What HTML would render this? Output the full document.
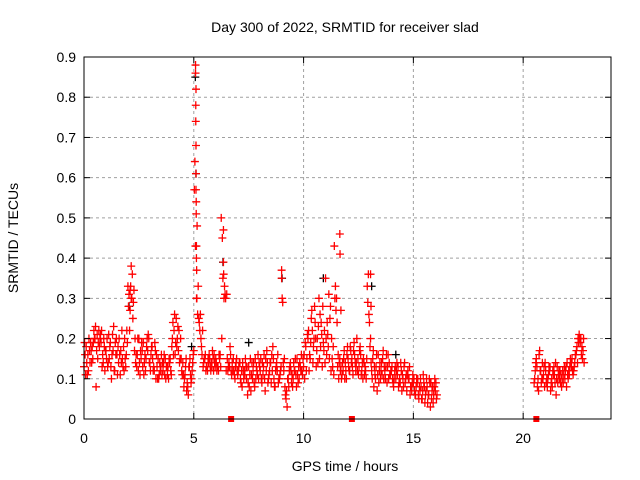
<!DOCTYPE html>
<html><head><meta charset="utf-8"><style>
body{margin:0;background:#fff;}
svg{display:block;font-family:"Liberation Sans",sans-serif;}
</style></head><body>
<svg id="chart" width="640" height="480">
<text x="345" y="32" font-size="14" text-anchor="middle">Day 300 of 2022, SRMTID for receiver slad</text>
<text x="345" y="471" font-size="14" text-anchor="middle">GPS time / hours</text>
<text transform="translate(18,238) rotate(-90)" font-size="14" text-anchor="middle">SRMTID / TECUs</text>
<g id="grid"></g><g id="marks"></g><g id="axes"></g>
</svg>
<script>
const xTicks=[0,5,10,15,20];
const yTicks=[0,0.1,0.2,0.3,0.4,0.5,0.6,0.7,0.8,0.9];
const yTickLabels=["0","0.1","0.2","0.3","0.4","0.5","0.6","0.7","0.8","0.9"];
const step=0.1;
const seriesA=[.13,.18,.12,.19,.15,.2,.21,.18,.22,.2,
.17,.14,.19,.21,.12,.16,.2,.14,.18,.13,
.33,.27,.36,.17,.13,.2,.15,.19,.12,.17,
.14,.18,.12,.16,.1,.13,.12,.15,.11,.14,
.18,.22,.25,.17,.2,.14,.11,.09,.13,.1,
.17,.82,.33,.26,.22,.15,.13,.16,.14,.12,
.15,.13,.16,.45,.33,.31,.14,.12,.15,.13,
.11,.14,.08,.12,.1,.13,.07,.12,.15,.11,
.13,.09,.16,.12,.1,.14,.18,.08,.12,.1,
.35,.12,.05,.1,.14,.08,.12,.15,.1,.16,
.13,.18,.2,.15,.22,.28,.17,.3,.24,.19,
.35,.21,.25,.15,.43,.3,.1,.13,.12,.14,
.18,.12,.15,.19,.14,.11,.16,.1,.13,.33,
.24,.12,.08,.13,.16,.1,.15,.12,.09,.14,
.12,.08,.1,.13,.09,.11,.14,.07,.1,.08,
.09,.06,.1,.07,.05,.08,.1,.06,.09,.04,.07];
const seriesB=[.16,.11,.17,.14,.22,.08,.19,.21,.16,.12,
.2,.15,.1,.23,.16,.18,.11,.15,.2,.22,
.31,.38,.29,.14,.2,.11,.17,.14,.18,.2,
.16,.12,.17,.1,.14,.11,.16,.13,.1,.12,
.24,.16,.2,.14,.12,.08,.15,.06,.11,.14,
.64,.48,.24,.18,.14,.12,.15,.13,.17,.14,
.12,.16,.5,.39,.3,.12,.18,.14,.11,.15,
.13,.09,.12,.15,.06,.11,.14,.09,.13,.1,
.15,.11,.07,.14,.12,.16,.1,.13,.09,.12,
.29,.08,.03,.12,.09,.14,.11,.09,.13,.11,
.1,.15,.12,.25,.18,.2,.14,.26,.13,.22,
.16,.31,.12,.18,.33,.13,.15,.11,.17,.1,
.13,.17,.11,.14,.12,.17,.12,.14,.1,.36,
.2,.15,.11,.07,.12,.14,.1,.13,.16,.11,
.1,.12,.14,.09,.12,.08,.1,.12,.06,.09,
.07,.1,.05,.08,.11,.06,.04,.09,.07,.08,.05];
const seriesC=[.19,.14,.2,.17,.19,.23,.15,.2,.13,.18,
.15,.21,.13,.17,.19,.11,.16,.22,.12,.16,
.28,.33,.25,.2,.16,.14,.19,.11,.15,.21,
.12,.15,.19,.13,.11,.16,.14,.1,.13,.15,
.2,.26,.18,.22,.15,.11,.13,.08,.15,.12,
.57,.3,.25,.2,.13,.16,.12,.15,.13,.16,
.14,.12,.13,.35,.31,.15,.13,.11,.12,.14,
.12,.1,.14,.11,.13,.08,.11,.14,.1,.16,
.12,.14,.1,.17,.11,.09,.15,.12,.16,.11,
.3,.15,.07,.08,.12,.1,.15,.11,.14,.12,
.16,.12,.22,.19,.14,.24,.2,.15,.21,.17,
.2,.18,.28,.13,.3,.24,.14,.1,.15,.12,
.15,.18,.13,.16,.2,.13,.11,.15,.12,.29,
.18,.1,.13,.16,.09,.12,.17,.1,.13,.11,
.13,.1,.12,.08,.14,.1,.09,.11,.13,.07,
.1,.08,.06,.1,.07,.04,.08,.1,.05,.06,.09];
const seriesD=[.11,.16,.14,.18,.2,.17,.22,.19,.14,.17,
.13,.18,.16,.12,.2,.14,.17,.13,.15,.19,
.22,.3,.32,.16,.12,.17,.13,.16,.2,.14,
.18,.13,.1,.15,.12,.14,.11,.13,.15,.11,
.16,.19,.23,.15,.11,.1,.07,.13,.09,.16,
.43,.26,.22,.16,.15,.13,.14,.12,.15,.13,
.13,.15,.2,.3,.12,.13,.16,.12,.1,.12,
.14,.12,.1,.13,.09,.15,.1,.08,.12,.14,
.1,.13,.15,.09,.14,.12,.08,.14,.1,.13,
.14,.06,.1,.13,.11,.12,.08,.13,.12,.15,
.19,.21,.16,.27,.2,.13,.23,.18,.28,.14,
.24,.15,.2,.11,.27,.16,.12,.14,.1,.16,
.12,.14,.17,.12,.15,.18,.14,.11,.15,.26,
.14,.17,.1,.11,.14,.11,.13,.16,.1,.12,
.09,.13,.11,.1,.07,.13,.11,.1,.08,.11,
.06,.09,.08,.05,.09,.07,.06,.03,.08,.1,.06];
const lateA=[.09,.15,.07,.12,.1,.14,.08,.12,.1,.13,.06,.11,.09,.12,.1,.14,.11,.13,.12,.16,.2,.19,.15];
const lateB=[.12,.08,.17,.1,.13,.09,.11,.07,.12,.09,.13,.1,.08,.11,.13,.1,.15,.12,.14,.18,.21,.16,.2];
const lateC=[.1,.13,.16,.09,.11,.12,.1,.13,.08,.11,.1,.12,.11,.09,.12,.11,.13,.15,.13,.17,.19,.2,.17];
const lateD=[.14,.1,.12,.14,.08,.1,.13,.09,.11,.14,.09,.12,.1,.13,.08,.12,.14,.11,.16,.14,.2,.18,.14];
const spikeHours=[5.08,5.08,5.09,5.09,5.1,5.1,5.1,5.11,5.11,5.12,5.12,5.13,5.14,6.35,6.36,11.65,11.66,11.7,13.05,13.07,9.0,2.1,2.15];
const spikeVals=[.88,.86,.78,.74,.68,.61,.57,.54,.51,.43,.4,.37,.3,.47,.36,.46,.41,.27,.36,.28,.37,.32,.3];
const blackHours=[5.07,5.1,6.33,9.02,10.9,13.1,2.05,4.9,14.2,7.5];
const blackVals=[.85,.61,.39,.35,.35,.33,.28,.18,.16,.19];
const zeroHours=[6.7,12.2,20.6];

const X0=84,X1=611,Y0=419,Y1=57;
function xs(h){return X0+(h/24)*(X1-X0);}
function ys(v){return Y0-(v/0.9)*(Y0-Y1);}
const NS="http://www.w3.org/2000/svg";
const grid=document.getElementById('grid'),marks=document.getElementById('marks'),axes=document.getElementById('axes');
function mk(tag,attrs,parent){const e=document.createElementNS(NS,tag);for(const k in attrs)e.setAttribute(k,attrs[k]);parent.appendChild(e);return e;}
const frame=mk('rect',{x:X0,y:Y1,width:X1-X0,height:Y0-Y1,fill:'none',stroke:'#000','stroke-width':1},axes);


xTicks.forEach(t=>{const x=xs(t);
 if(t>0){const g=mk('line',{x1:x,x2:x,y1:Y1,y2:Y0,stroke:'#a0a0a0','stroke-dasharray':'3,3'},grid);
 
 }
 mk('line',{x1:x,x2:x,y1:Y0,y2:Y0-6,stroke:'#000'},axes);
 mk('line',{x1:x,x2:x,y1:Y1,y2:Y1+6,stroke:'#000'},axes);
 const l=mk('text',{x:x,y:Y0+24,'font-size':14,'text-anchor':'middle'},axes);l.textContent=t;
 
 });
yTicks.forEach((t,i)=>{const y=ys(t);
 if(t>0&&t<0.9){const g=mk('line',{x1:X0,x2:X1,y1:y,y2:y,stroke:'#a0a0a0','stroke-dasharray':'3,3'},grid);
 
 }
 mk('line',{x1:X0,x2:X0+6,y1:y,y2:y,stroke:'#000'},axes);
 mk('line',{x1:X1,x2:X1-6,y1:y,y2:y,stroke:'#000'},axes);
 const l=mk('text',{x:X0-8,y:y+5,'font-size':14,'text-anchor':'end'},axes);l.textContent=yTickLabels[i];
 
 });
function plus(h,v,col){const x=xs(h),y=ys(v);
 const p=mk('path',{d:`M${x-4},${y}H${x+4}M${x},${y-4}V${y+4}`,stroke:col,'stroke-width':1.3,fill:'none'},marks);
 
 }
blackHours.forEach((h,i)=>plus(h,blackVals[i],'#000'));
seriesA.forEach((v,i)=>plus(0+i*step,v,'#f00'));
seriesC.forEach((v,i)=>plus(0.025+i*step,v,'#f00'));
seriesB.forEach((v,i)=>plus(0.05+i*step,v,'#f00'));
seriesD.forEach((v,i)=>plus(0.075+i*step,v,'#f00'));
lateA.forEach((v,i)=>plus(20.5+i*step,v,'#f00'));
lateC.forEach((v,i)=>plus(20.525+i*step,v,'#f00'));
lateB.forEach((v,i)=>plus(20.55+i*step,v,'#f00'));
lateD.forEach((v,i)=>plus(20.575+i*step,v,'#f00'));
spikeHours.forEach((h,i)=>plus(h,spikeVals[i],'#f00'));
zeroHours.forEach(h=>{const x=xs(h);
 const r=mk('rect',{x:x-3,y:Y0-3,width:6,height:6,fill:'#f00'},marks);
 
 });
</script>
</body></html>
